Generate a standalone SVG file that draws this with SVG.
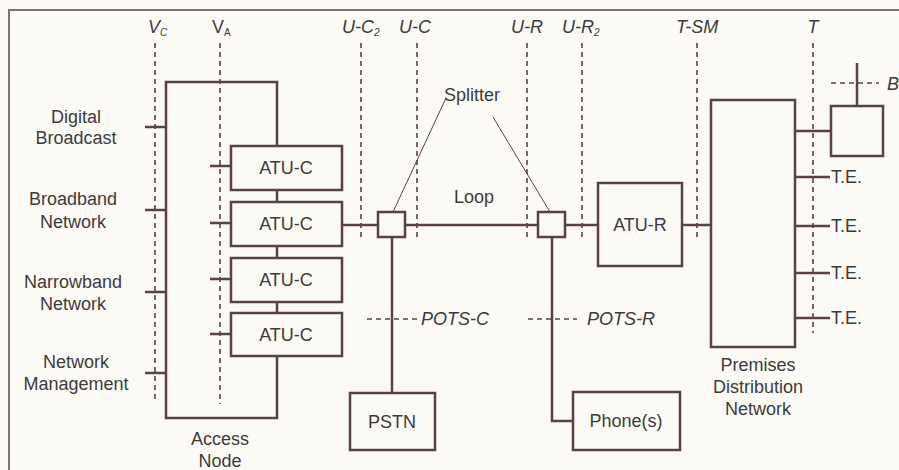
<svg xmlns="http://www.w3.org/2000/svg" width="899" height="470" viewBox="0 0 899 470">
<style>
.ln{fill:none;stroke:#5a4048;stroke-width:2.5}
.bx{fill:none;stroke:#5a4048;stroke-width:2.5}
.th{fill:none;stroke:#5a4048;stroke-width:1}
.ds{fill:none;stroke:#5a4048;stroke-width:1.6;stroke-dasharray:5 4}
text{font-family:"Liberation Sans",Arial,sans-serif;font-size:18px;fill:#3d3a3a}
.c{text-anchor:middle}
.i{font-style:italic}
.sub{font-size:10px}
</style>
<rect x="0" y="0" width="899" height="470" fill="#fbfaf5"/>
<path d="M9,475 V10 H905" fill="none" stroke="#7a7378" stroke-width="2"/>

<g id="refpoints">
<text class="i" x="148" y="33">V<tspan class="sub" dy="3">C</tspan></text>
<text x="212" y="33">V<tspan class="sub" dy="3">A</tspan></text>
<text class="i" x="342" y="33">U-C<tspan class="sub" dy="3">2</tspan></text>
<text class="i" x="399" y="33">U-C</text>
<text class="i" x="511" y="33">U-R</text>
<text class="i" x="562" y="33">U-R<tspan class="sub" dy="3">2</tspan></text>
<text class="i" x="676" y="33">T-SM</text>
<text class="i c" x="813" y="33">T</text>
<path class="ds" d="M155,43 V402 M220,43 V404 M361,43 V237 M417,43 V237 M527,43 V237 M582,43 V237 M697,43 V237 M813,43 V333"/>
</g>

<g id="access-node">
<path class="ln" d="M277,146 V82 H166 V418 H277 V356"/>
<path class="ln" d="M145,127 H166 M145,210 H166 M145,292 H166 M145,373 H166"/>
<text class="c" x="220" y="445">Access</text>
<text class="c" x="220" y="467">Node</text>
</g>

<g id="sources">
<text class="c" x="76" y="123">Digital</text>
<text class="c" x="76" y="144">Broadcast</text>
<text class="c" x="73" y="205">Broadband</text>
<text class="c" x="73" y="228">Network</text>
<text class="c" x="73" y="288">Narrowband</text>
<text class="c" x="73" y="310">Network</text>
<text class="c" x="76" y="368">Network</text>
<text class="c" x="76" y="390">Management</text>
</g>

<g id="atu-c-1"><rect class="bx" x="231" y="146" width="111" height="44"/><path class="ln" d="M210,166 H231"/><text class="c" x="286" y="174">ATU-C</text></g>
<g id="atu-c-2"><rect class="bx" x="231" y="202" width="111" height="44"/><path class="ln" d="M210,223 H231"/><text class="c" x="286" y="230">ATU-C</text></g>
<g id="atu-c-3"><rect class="bx" x="231" y="258" width="111" height="44"/><path class="ln" d="M210,279 H231"/><text class="c" x="286" y="286">ATU-C</text></g>
<g id="atu-c-4"><rect class="bx" x="231" y="313" width="111" height="43"/><path class="ln" d="M210,334 H231"/><text class="c" x="286" y="341">ATU-C</text></g>

<g id="splitter-c"><rect class="bx" x="378" y="212" width="27" height="25"/></g>
<g id="splitter-r"><rect class="bx" x="538" y="212" width="27" height="25"/></g>
<g id="splitter-label"><text class="c" x="472" y="101">Splitter</text></g>
<g id="loop-label"><text class="c" x="474" y="203">Loop</text></g>

<g id="atu-r"><rect class="bx" x="598" y="183" width="84" height="83"/><text class="c" x="640" y="231">ATU-R</text></g>

<g id="pstn"><rect class="bx" x="350" y="393" width="85" height="57"/><text class="c" x="392" y="428">PSTN</text></g>
<g id="phones"><rect class="bx" x="573" y="392" width="107" height="58"/><text class="c" x="626" y="427">Phone(s)</text></g>

<g id="pdn">
<rect class="bx" x="711" y="100" width="84" height="247"/>
<text class="c" x="758" y="371">Premises</text>
<text class="c" x="758" y="393">Distribution</text>
<text class="c" x="758" y="415">Network</text>
</g>

<g id="b-device">
<rect class="bx" x="831" y="106" width="52" height="50"/>
<path class="ds" d="M831,83 H879"/>
<text class="i" x="887" y="90">B</text>
</g>

<g id="te">
<text x="831" y="183">T.E.</text>
<text x="831" y="232">T.E.</text>
<text x="831" y="279">T.E.</text>
<text x="831" y="324">T.E.</text>
</g>

<g id="pots">
<path class="ds" d="M367,319 H418 M528,319 H577"/>
<text class="i" x="421" y="325">POTS-C</text>
<text class="i" x="587" y="325">POTS-R</text>
</g>

<g id="connectors">
<path class="ln" d="M277,190 V202 M277,246 V258 M277,302 V313"/>
<path class="ln" d="M342,225 H378 M405,225 H538 M565,225 H598 M682,225 H711"/>
<path class="ln" d="M392,237 V393"/>
<path class="ln" d="M552,237 V421 H573"/>
<path class="ln" d="M795,131 H831 M857,106 V63"/>
<path class="ln" d="M795,177 H830 M795,226 H830 M795,273 H830 M795,318 H830"/>
<path class="th" d="M446,98 L393,212 M493,117 L550,212"/>
</g>
</svg>
